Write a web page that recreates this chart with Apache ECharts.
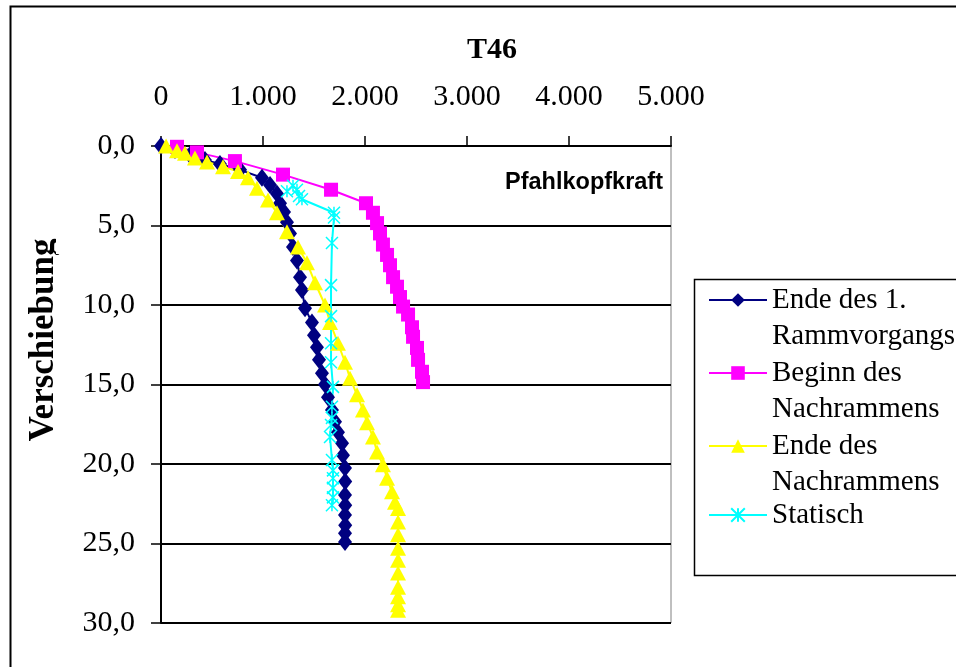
<!DOCTYPE html>
<html>
<head>
<meta charset="utf-8">
<script src="https://cdn.jsdelivr.net/npm/echarts@6/dist/echarts.min.js"></script>
<style>html,body{margin:0;padding:0;background:#fff}#c{width:956px;height:667px}</style>
</head>
<body>
<div id="c"></div>
<script>
const titleText = 'T46';
const xAxisTitle = 'Pfahlkopfkraft';
const yAxisTitle = 'Verschiebung';
const seriesNames = ['Ende des 1. Rammvorgangs', 'Beginn des Nachrammens', 'Ende des Nachrammens', 'Statisch'];
const legendLabels = ['\nEnde des 1.\nRammvorgangs', '\nBeginn des\nNachrammens', '\nEnde des\nNachrammens', '\nStatisch\n '];
const xTicks = [0, 1000, 2000, 3000, 4000, 5000];
const yTicks = [0, 5, 10, 15, 20, 25, 30];

const ende1Force = [0,137,284,431,578,775,990,1069,1137,1167,1206,1235,1265,1294,1333,1363,1382,1412,1480,1500,1529,1549,1578,1608,1637,1676,1706,1735,1775,1784,1804,1806,1804,1806,1804,1806,1804,1804];
const ende1Disp  = [0,0.25,0.57,0.88,1.13,1.5,2.0,2.45,3.0,3.6,4.15,4.8,5.5,6.35,7.2,8.25,9.05,10.2,11.1,11.9,12.65,13.45,14.3,15.0,15.8,16.6,17.35,18.0,18.7,19.45,20.25,21.1,21.95,22.6,23.2,23.85,24.35,24.9];

const beginnForce = [157,353,725,1196,1667,2010,2078,2118,2147,2176,2216,2245,2275,2314,2343,2373,2422,2461,2471,2510,2520,2559,2569];
const beginnDisp  = [0.05,0.4,0.95,1.8,2.75,3.6,4.2,4.85,5.5,6.2,6.85,7.5,8.25,8.85,9.5,10.1,10.6,11.4,12.0,12.7,13.45,14.2,14.85];

const endeNachForce = [50,157,235,333,451,608,755,853,941,1049,1137,1235,1343,1431,1510,1608,1657,1735,1804,1853,1922,1980,2020,2078,2118,2176,2216,2265,2294,2324,2324,2324,2324,2324,2324,2324,2324,2324,2324];
const endeNachDisp  = [0,0.3,0.45,0.75,1.0,1.3,1.6,2.0,2.65,3.4,4.2,5.4,6.35,7.35,8.6,10.0,11.1,12.4,13.6,14.6,15.65,16.6,17.4,18.3,19.25,20.05,20.9,21.75,22.4,22.8,23.65,24.45,25.3,26.05,26.85,27.75,28.35,28.85,29.2];

const statForce = [1235,1294,1333,1353,1382,1696,1696,1676,1667,1667,1667,1667,1686,1676,1676,1667,1657,1676,1686,1686,1686,1686,1676];
const statDisp  = [2.85,2.5,2.75,3.15,3.35,4.2,4.5,6.1,8.75,10.7,12.4,13.6,15.15,16.4,17.1,17.55,18.3,19.75,20.4,20.9,21.5,22.1,22.6];

function pairs(xs, ys) { return xs.map((x, i) => [x, ys[i]]); }

const chart = echarts.init(document.getElementById('c'), null, {renderer: 'canvas'});
const serif = 'Liberation Serif';
const crossPath = 'path://M0,0L10,10M10,0L0,10M5,0L5,10';

const legendFirstLineY = [300, 373, 446, 515];
const legendLineH = 36.5;
const legends = seriesNames.map((n, i) => ({
  orient: 'vertical', left: 708, top: legendFirstLineY[i] - legendLineH * 1.5, padding: 0,
  itemWidth: 58, itemHeight: 17, selectedMode: false,
  data: [n],
  formatter: () => legendLabels[i],
  textStyle: {fontFamily: serif, fontSize: 29, color: '#000', lineHeight: legendLineH}
}));

chart.setOption({
  animation: false,
  backgroundColor: '#fff',
  title: {
    text: titleText, left: 487, top: 30, textAlign: 'center',
    textStyle: {fontFamily: serif, fontWeight: 'bold', fontSize: 30, color: '#000'}
  },
  grid: {left: 161, top: 146, width: 510, height: 477, show: true, borderColor: '#808080', borderWidth: 1, backgroundColor: 'transparent'},
  xAxis: {
    type: 'value', position: 'top', min: xTicks[0], max: xTicks[xTicks.length - 1], interval: 1000,
    axisLine: {show: true, lineStyle: {color: '#000', width: 2}},
    axisTick: {show: true, length: 10, lineStyle: {color: '#000', width: 1.5}},
    splitLine: {show: false},
    axisLabel: {
      fontFamily: serif, fontSize: 30, color: '#000', margin: 34,
      formatter: v => v === 0 ? '0' : (v / 1000) + '.000'
    }
  },
  yAxis: {
    type: 'value', inverse: true, min: yTicks[0], max: yTicks[yTicks.length - 1], interval: 5,
    axisLine: {show: true, lineStyle: {color: '#000', width: 2}},
    axisTick: {show: true, length: 10, lineStyle: {color: '#000', width: 1.5}},
    splitLine: {show: true, lineStyle: {color: '#000', width: 2}},
    axisLabel: {
      fontFamily: serif, fontSize: 30, color: '#000', margin: 26,
      formatter: v => v.toFixed(1).replace('.', ',')
    }
  },
  legend: legends,
  graphic: [
    {type: 'rect', left: 8, top: 4, shape: {width: 1000, height: 700}, style: {fill: 'none', stroke: '#000', lineWidth: 2}, silent: true},
    {type: 'rect', left: 692, top: 277, shape: {width: 300, height: 296}, style: {fill: 'none', stroke: '#000', lineWidth: 1.5}, silent: true},
    {type: 'text', x: 663, y: 183, silent: true,
      style: {text: xAxisTitle, font: 'bold 23.5px "Liberation Sans"', fill: '#000', textAlign: 'right', textVerticalAlign: 'middle', align: 'right', verticalAlign: 'middle'}},
    {type: 'text', x: 44, y: 340, rotation: Math.PI / 2, silent: true,
      style: {text: yAxisTitle, font: 'bold 35px "Liberation Serif"', fill: '#000', textAlign: 'center', textVerticalAlign: 'middle', align: 'center', verticalAlign: 'middle'}},
    {type: 'rect', left: 56, top: 222, shape: {width: 14, height: 32}, style: {fill: '#fff'}, silent: true, z: 200}
  ],
  series: [
    {name: seriesNames[0], type: 'line', data: pairs(ende1Force, ende1Disp),
      symbol: 'diamond', symbolSize: [14, 18], lineStyle: {color: '#000080', width: 2}, itemStyle: {color: '#000080'}},
    {name: seriesNames[1], type: 'line', data: pairs(beginnForce, beginnDisp),
      symbol: 'rect', symbolSize: 14, lineStyle: {color: '#FF00FF', width: 2}, itemStyle: {color: '#FF00FF'}},
    {name: seriesNames[2], type: 'line', data: pairs(endeNachForce, endeNachDisp),
      symbol: 'triangle', symbolSize: [16, 15], lineStyle: {color: '#FFFF00', width: 2}, itemStyle: {color: '#FFFF00'}},
    {name: seriesNames[3], type: 'line', data: pairs(statForce, statDisp),
      symbol: crossPath, symbolSize: 12, lineStyle: {color: '#00FFFF', width: 2}, itemStyle: {color: '#00FFFF', borderColor: '#00FFFF', borderWidth: 1.5}}
  ]
});
</script>
</body>
</html>
